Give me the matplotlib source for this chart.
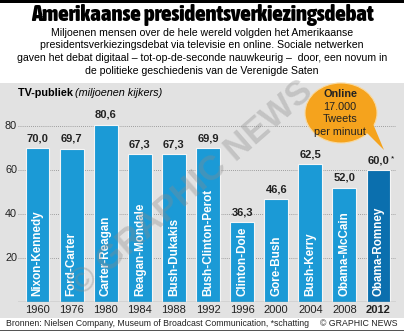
import matplotlib.pyplot as plt
import matplotlib.patches as mpatches
from matplotlib import font_manager
import numpy as np

years = ['1960', '1976', '1980', '1984', '1988', '1992', '1996', '2000', '2004', '2008', '2012']
debates = ['Nixon-Kennedy', 'Ford-Carter', 'Carter-Reagan', 'Reagan-Mondale', 'Bush-Dukakis',
           'Bush-Clinton-Perot', 'Clinton-Dole', 'Gore-Bush', 'Bush-Kerry', 'Obama-McCain',
           'Obama-Romney']
viewers = [70.0, 69.7, 80.6, 67.3, 67.3, 69.9, 36.3, 46.6, 62.5, 52.0, 60.0]
value_labels = ['70,0', '69,7', '80,6', '67,3', '67,3', '69,9', '36,3', '46,6', '62,5', '52,0', '60,0']
yticks = [20, 40, 60, 80]

W, H = 404, 333
fig = plt.figure(figsize=(W / 100, H / 100), dpi=100)
fig.patch.set_facecolor('white')
plt.rcParams['font.family'] = ['Liberation Sans', 'DejaVu Sans']


def wnum(w):
    if isinstance(w, str):
        return 700 if 'bold' in w.lower() or 'black' in w.lower() or 'heavy' in w.lower() else 400
    return w


# look for a bold condensed face for the title
cands = []
for f in font_manager.fontManager.ttflist:
    narrow = ('Narrow' in f.name or 'Condensed' in f.name or
              str(f.stretch) in ('condensed', 'semi-condensed', 'extra-condensed') or
              (isinstance(f.stretch, int) and f.stretch < 500))
    if narrow and wnum(f.weight) >= 600 and f.style == 'normal':
        cands.append(f)
cands.sort(key=lambda f: (0 if 'Liberation' in f.name else 1, f.name))
if cands:
    title_family = [cands[0].name]
    title_stretch = cands[0].stretch
    title_weight = cands[0].weight
else:
    title_family = ['Liberation Sans']
    title_stretch = 'normal'
    title_weight = 'bold'


def fx(x):
    return x / W


def fy(y):
    return 1 - y / H


# grey panel
fig.patches.append(mpatches.Rectangle((0, fy(318)), 1, (318 - 83) / H, transform=fig.transFigure,
                                      facecolor='#e2e2e2', edgecolor='none', zorder=-5))
# black bar at top, thin line at bottom
fig.patches.append(mpatches.Rectangle((0, fy(3)), 1, 3 / H, transform=fig.transFigure,
                                      facecolor='black', edgecolor='none', zorder=-4))
fig.patches.append(mpatches.Rectangle((0, fy(331)), 1, 1 / H, transform=fig.transFigure,
                                      facecolor='#555555', edgecolor='none', zorder=-4))

# titles
title = fig.text(0.5, fy(15), 'Amerikaanse presidentsverkiezingsdebat', ha='center', va='center',
                 fontsize=18, fontweight=title_weight, family=title_family,
                 fontstretch=title_stretch)
r = fig.canvas.get_renderer()
tw = title.get_window_extent(r).width
if tw > 344:
    title.set_fontsize(18 * 344 / tw)

sub = ['Miljoenen mensen over de hele wereld volgden het Amerikaanse',
       'presidentsverkiezingsdebat via televisie en online. Sociale netwerken',
       'gaven het debat digitaal \u2013 tot-op-de-seconde nauwkeurig \u2013  door, een novum in',
       'de politieke geschiedenis van de Verenigde Saten']
for i, line in enumerate(sub):
    fig.text(0.5, fy(33 + i * 12.5), line, ha='center', va='center', fontsize=7.6)

# axes
x0, x1 = 18, 396
ybot, ytop = 302, 104
ax = fig.add_axes([fx(x0), fy(ybot), (x1 - x0) / W, (ybot - ytop) / H])
ax.set_facecolor('none')
pitch = 34.1
c0 = 37.5
ax.set_xlim((x0 - c0) / pitch, (x1 - c0) / pitch)
ax.set_ylim(0, (ybot - ytop) / 2.2)

x = np.arange(len(years))
colors = ['#1b9ad6'] * (len(years) - 1) + ['#0b6fae']
ax.bar(x, viewers, width=0.7, color=colors, edgecolor='#f5f5f5', linewidth=0.8, zorder=3)

for yt in yticks:
    ax.axhline(yt, color='#888888', ls=(0, (1, 1.5)), lw=0.6, zorder=1)
ax.axhline(0, color='#999999', lw=1, zorder=4)

for s in ax.spines.values():
    s.set_visible(False)
ax.set_xticks([])
ax.set_yticks([])
for yt in yticks:
    ax.text(-0.6, yt, str(yt), ha='right', va='center', fontsize=7.8, color='#222222')

for i in range(len(years)):
    ax.text(x[i], viewers[i] + 2.2, value_labels[i], ha='center', va='bottom',
            fontsize=8, fontweight='bold', color='#222222', zorder=5)
    ax.text(x[i], 2.5, debates[i], ha='center', va='bottom', rotation=90,
            fontsize=8.4, fontweight='bold', color='white', zorder=5)
    ax.text(x[i], -3.8, years[i], ha='center', va='center', fontsize=8,
            fontweight='bold' if i == len(years) - 1 else 'normal', color='#222222')
ax.text(x[-1] + 0.42, viewers[-1] + 5.2, '*', ha='center', va='center', fontsize=6)

fig.text(fx(18), fy(93), 'TV-publiek ', fontsize=7.8, fontweight='bold',
         ha='left', va='center')
fig.text(fx(75), fy(93), '(miljoenen kijkers)', fontsize=7.8, style='italic',
         ha='left', va='center')

# orange bubble
bc = '#f5a31d'
bub = mpatches.Ellipse((fx(341), fy(113)), 72 / W, 60 / H, transform=fig.transFigure,
                       facecolor=bc, edgecolor='#f8d9a0', linewidth=0.8, zorder=6)
fig.patches.append(bub)
fig.patches.append(mpatches.Polygon([(fx(361), fy(127)), (fx(384), fy(150)), (fx(371), fy(119))],
                                    closed=True, transform=fig.transFigure, facecolor=bc,
                                    edgecolor='none', zorder=7))
bub_lines = ['Online', '17.000', 'Tweets', 'per minuut']
for i, t in enumerate(bub_lines):
    fig.text(fx(340), fy(94 + i * 12.7), t, ha='center', va='center', fontsize=7.8,
             fontweight='bold' if i == 0 else 'normal', color='#222222', zorder=8)

# watermark
fig.text(fx(192), fy(188), '\u00a9 GRAPHIC NEWS', ha='center', va='center', rotation=41,
         fontsize=25, fontweight='bold', color='#8a8a8a', alpha=0.35, zorder=9)

# footer
fig.text(fx(6), fy(324), 'Bronnen: Nielsen Company, Museum of Broadcast Communication, *schatting',
         ha='left', va='center', fontsize=6.3, color='#222222')
fig.text(fx(398), fy(324), '\u00a9 GRAPHIC NEWS', ha='right', va='center', fontsize=6.3,
         color='#222222')

fig.savefig('out.png', dpi=100, facecolor='white')
